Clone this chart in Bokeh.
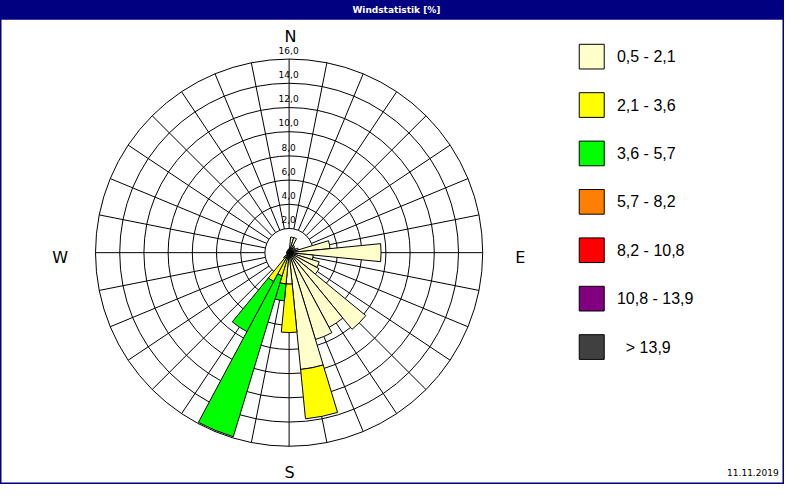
import numpy as np
from bokeh.plotting import figure
from bokeh.models import Range1d
from bokeh.embed import file_html
from bokeh.resources import INLINE
from bokeh.core.properties import value

# ---------------- data ----------------
# 32 wind directions (bearing in degrees, clockwise from north)
bearings = [0.0, 11.25, 22.5, 33.75, 45.0, 56.25, 67.5, 78.75,
            90.0, 101.25, 112.5, 123.75, 135.0, 146.25, 157.5, 168.75,
            180.0, 191.25, 202.5, 213.75, 225.0, 236.25, 247.5, 258.75,
            270.0, 281.25, 292.5, 303.75, 315.0, 326.25, 337.5, 348.75]

# frequency [%] per speed class and direction
cls_05_21 = [0.3, 1.3, 1.3, 0.7, 0.6, 0.6, 0.8, 3.4,
             7.6, 2.0, 2.6, 2.8, 8.2, 7.0, 7.5, 9.7,
             2.6, 0.5, 0.5, 0.5, 0.6, 0.2, 0.2, 0.2,
             0.2, 0.2, 0.2, 0.2, 0.2, 0.2, 0.2, 0.3]
cls_21_36 = [0.0, 0.0, 0.0, 0.0, 0.0, 0.0, 0.0, 0.0,
             0.0, 0.0, 0.0, 0.0, 0.0, 0.0, 0.0, 4.1,
             4.0, 2.1, 1.5, 2.2, 0.0, 0.0, 0.0, 0.0,
             0.0, 0.0, 0.0, 0.0, 0.0, 0.0, 0.0, 0.0]
cls_36_57 = [0.0, 0.0, 0.0, 0.0, 0.0, 0.0, 0.0, 0.0,
             0.0, 0.0, 0.0, 0.0, 0.0, 0.0, 0.0, 0.0,
             0.0, 1.4, 13.9, 4.7, 0.0, 0.0, 0.0, 0.0,
             0.0, 0.0, 0.0, 0.0, 0.0, 0.0, 0.0, 0.0]
cls_zero = [0.0] * 32   # higher classes: no occurrences

class_labels = ["0,5 - 2,1", "2,1 - 3,6", "3,6 - 5,7", "5,7 - 8,2",
                "8,2 - 10,8", "10,8 - 13,9", "\u00a0\u00a0> 13,9"]
class_colors = ["#FFFFCC", "#FFFF00", "#00FF00", "#FF8000",
                "#FF0000", "#800080", "#404040"]

ring_values = [2, 4, 6, 8, 10, 12, 14, 16]
ring_labels = ["2,0", "4,0", "6,0", "8,0", "10,0", "12,0", "14,0", "16,0"]
compass = ["N", "E", "S", "W"]
title_text = "Windstatistik [%]"
date_text = "11.11.2019"

# ---------------- layout ----------------
W, H = 784, 484
SX, SY = W / 800.0, H / 500.0
S = 12.5 * SY                 # pixels per percent
CX, CY = 294.5 * SX, 260.5 * SY


def ref(X, Y):
    """reference-pixel position -> data coordinates"""
    return (X * SX - CX) / S, (CY - Y * SY) / S


p = figure(width=W, height=H, output_backend="svg", toolbar_location=None,
           x_axis_type=None, y_axis_type=None, min_border=0,
           x_range=Range1d(-CX / S, (W - CX) / S),
           y_range=Range1d((CY - H) / S, CY / S))
p.background_fill_color = "white"
p.border_fill_color = "white"
p.outline_line_color = "#000080"
p.outline_line_width = 2

# grid rings and spokes
p.circle(x=0, y=0, radius=ring_values, fill_color=None,
         line_color="black", line_width=1)
b = np.deg2rad(np.array(bearings))
r_in, r_out = ring_values[0], ring_values[-1]
p.segment(x0=r_in * np.sin(b), y0=r_in * np.cos(b),
          x1=r_out * np.sin(b), y1=r_out * np.cos(b),
          line_color="black", line_width=1)

# stacked wedges
half = 360.0 / len(bearings) / 2.0
start = np.deg2rad(90.0 - np.array(bearings) - half)
end = np.deg2rad(90.0 - np.array(bearings) + half)
series = [cls_05_21, cls_21_36, cls_36_57, cls_zero, cls_zero, cls_zero, cls_zero]
base = np.zeros(len(bearings))
for vals, col in zip(series, class_colors):
    v = np.array(vals)
    m = v > 0
    if m.any():
        p.annular_wedge(x=0, y=0, inner_radius=base[m], outer_radius=(base + v)[m],
                        start_angle=start[m], end_angle=end[m],
                        fill_color=col, line_color="black", line_width=1)
    base = base + v

# radial labels along the north spoke
lx, _ = ref(294.0, 0)
p.text(x=[lx] * len(ring_values),
       y=[rv + 9.0 / 12.5 for rv in ring_values],
       text=ring_labels, text_align="center", text_baseline="middle",
       text_font=value("DejaVu Sans"), text_font_size=value("9px"),
       text_color="black")

# compass letters
cpos = [ref(296, 37), ref(530.5, 265), ref(295, 488), ref(61, 265)]
p.text(x=[c[0] for c in cpos], y=[c[1] for c in cpos], text=compass,
       text_align="center", text_baseline="middle",
       text_font=value("DejaVu Sans"), text_font_size=value("16px"),
       text_color="black")

# title bar
x0, y0 = ref(0, 0)
x1, y1 = ref(800, 20)
p.quad(left=x0, right=x1, top=y0 + 1, bottom=y1, fill_color="#000080",
       line_color=None)
tx, ty = ref(404, 10)
p.text(x=[tx], y=[ty], text=[title_text], text_align="center",
       text_baseline="middle", text_font=value("DejaVu Sans"),
       text_font_style="bold", text_font_size=value("9px"), text_color="white")

# legend
sq = [ref(603.3, 58 + 50 * j) for j in range(len(class_labels))]
p.rect(x=[q[0] for q in sq], y=[q[1] for q in sq],
       width=25.5 * SX / S, height=25.5 * SY / S,
       fill_color=class_colors, line_color="black", line_width=1)
lt = [ref(629, 58 + 50 * j) for j in range(len(class_labels))]
p.text(x=[q[0] for q in lt], y=[q[1] for q in lt], text=class_labels,
       text_align="left", text_baseline="middle",
       text_font=value("Liberation Sans"), text_font_size=value("16px"),
       text_color="black")

# date
dx, dy = ref(794, 488)
p.text(x=[dx], y=[dy], text=[date_text], text_align="right",
       text_baseline="middle", text_font=value("DejaVu Sans"),
       text_font_size=value("9px"), text_color="black")

open("out.html", "w").write(file_html(p, INLINE))
